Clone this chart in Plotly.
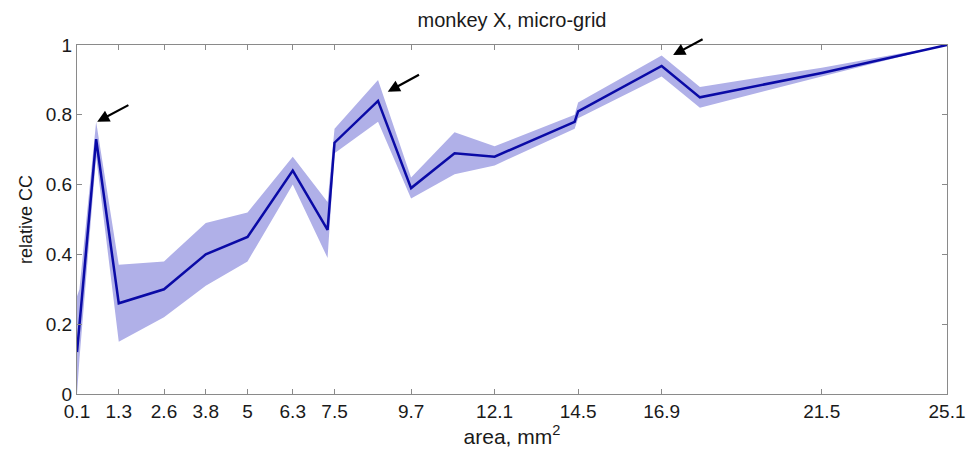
import plotly.graph_objects as go

# ---- data ----
area = [0.1, 0.17, 0.65, 1.3, 2.6, 3.8, 5.0, 6.3, 7.3, 7.5, 8.75, 9.7, 10.95, 12.1, 14.4, 14.5, 16.9, 18.0, 21.5, 25.1]
mean_cc = [0.12, 0.20, 0.73, 0.26, 0.30, 0.40, 0.45, 0.64, 0.47, 0.72, 0.84, 0.59, 0.69, 0.68, 0.78, 0.81, 0.94, 0.85, 0.92, 1.0]
upper_cc = [0.28, 0.30, 0.78, 0.37, 0.38, 0.49, 0.52, 0.68, 0.55, 0.76, 0.90, 0.62, 0.75, 0.71, 0.80, 0.835, 0.97, 0.88, 0.935, 1.0]
lower_cc = [0.0, 0.10, 0.68, 0.15, 0.22, 0.31, 0.38, 0.60, 0.39, 0.69, 0.78, 0.56, 0.63, 0.655, 0.76, 0.79, 0.91, 0.82, 0.91, 1.0]

x_ticks = [0.1, 1.3, 2.6, 3.8, 5, 6.3, 7.5, 9.7, 12.1, 14.5, 16.9, 21.5, 25.1]
x_tick_labels = ["0.1", "1.3", "2.6", "3.8", "5", "6.3", "7.5", "9.7", "12.1", "14.5", "16.9", "21.5", "25.1"]
y_ticks = [0, 0.2, 0.4, 0.6, 0.8, 1.0]
y_tick_labels = ["0", "0.2", "0.4", "0.6", "0.8", "1"]

# arrows marking peaks: head (x, y) and tail (x, y)
arrow_head_x = [0.68, 9.03, 17.23]
arrow_head_y = [0.78, 0.866, 0.971]
arrow_tail_x = [1.62, 9.97, 18.12]
arrow_tail_y = [0.83, 0.917, 1.019]

FONT = "Liberation Sans, Arial, sans-serif"
LINE = "#0a0aa6"
BAND = "rgba(176,176,232,1)"
AXC = "#8a8a8a"
TXT = "#1a1a1a"

fig = go.Figure()
fig.add_trace(go.Scatter(x=area, y=lower_cc, mode="lines", line=dict(width=0, color=BAND),
                         showlegend=False, hoverinfo="skip"))
fig.add_trace(go.Scatter(x=area, y=upper_cc, mode="lines", line=dict(width=0, color=BAND),
                         fill="tonexty", fillcolor=BAND, showlegend=False, hoverinfo="skip"))
fig.add_trace(go.Scatter(x=area, y=mean_cc, mode="lines", line=dict(width=2.5, color=LINE),
                         showlegend=False))

for hx, hy, tx, ty in zip(arrow_head_x, arrow_head_y, arrow_tail_x, arrow_tail_y):
    fig.add_annotation(x=hx, y=hy, ax=tx, ay=ty, xref="x", yref="y", axref="x", ayref="y",
                       text="", showarrow=True, arrowhead=2, arrowsize=1.1, arrowwidth=2.2,
                       arrowcolor="black", standoff=0, startstandoff=0)

fig.update_layout(
    width=969, height=452,
    margin=dict(l=77, r=22, t=45, b=58, autoexpand=False),
    paper_bgcolor="white", plot_bgcolor="white",
    font=dict(family=FONT, size=19, color=TXT),
    title=dict(text="monkey X, micro-grid", x=0.5 * (77 + 947) / 969, xanchor="center",
               y=1 - 20 / 452, yanchor="middle", yref="container",
               font=dict(family=FONT, size=20, color=TXT)),
    xaxis=dict(range=[0.1, 25.1], tickmode="array", tickvals=x_ticks, ticktext=x_tick_labels,
               ticks="inside", ticklen=5, tickcolor=AXC, showline=True, linecolor=AXC, linewidth=1,
               mirror="ticks", showgrid=False, zeroline=False, automargin=False,
               tickfont=dict(family=FONT, size=19, color=TXT),
               title=dict(text="area, mm<sup>2</sup>", standoff=6,
                          font=dict(family=FONT, size=21, color=TXT))),
    yaxis=dict(range=[0, 1], tickmode="array", tickvals=y_ticks, ticktext=y_tick_labels,
               ticks="inside", ticklen=5, tickcolor=AXC, showline=True, linecolor=AXC, linewidth=1,
               mirror="ticks", showgrid=False, zeroline=False, automargin=False,
               tickfont=dict(family=FONT, size=19, color=TXT),
               title=dict(text="relative CC", standoff=8,
                          font=dict(family=FONT, size=18, color=TXT))),
)

fig.write_html("out.html")
